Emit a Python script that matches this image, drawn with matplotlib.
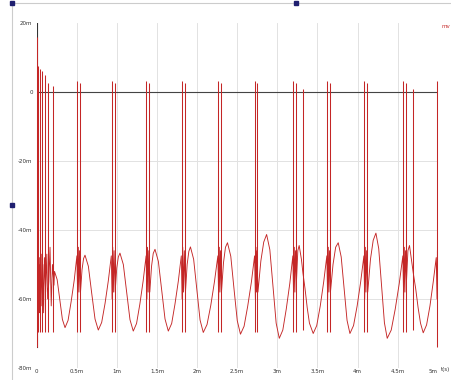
import matplotlib
matplotlib.use("Agg")
import matplotlib.pyplot as plt
from matplotlib.lines import Line2D

# spike times (ms), peaks and troughs (mV)
spike_t = [0.002, 0.019, 0.040, 0.069, 0.102, 0.143, 0.206,
           0.505, 0.539, 0.934, 0.971, 1.368, 1.403, 1.807, 1.848,
           2.263, 2.297, 2.721, 2.752, 3.198, 3.232, 3.319,
           3.622, 3.656, 4.084, 4.121, 4.570, 4.604, 4.695, 4.986]
spike_peak = [16.0, 7.4, 6.7, 6.0, 5.0, 2.7, 1.8,
              3.2, 2.6, 3.2, 2.6, 3.2, 2.6, 3.2, 2.6,
              3.2, 2.6, 3.2, 2.6, 3.2, 2.6, 0.8,
              3.2, 2.6, 3.2, 2.6, 3.2, 2.6, 0.9, 3.2]
spike_low = [-74.0, -69.5, -69.5, -69.5, -69.5, -69.5, -69.5,
             -69.5, -69.5, -69.5, -69.5, -69.5, -69.5, -69.5, -69.5,
             -69.5, -69.5, -69.5, -69.5, -69.5, -69.5, -69.0,
             -69.5, -69.5, -69.5, -69.5, -69.5, -69.5, -69.0, -74.0]

# slow membrane wave between spikes (ms, mV)
slow_t = [0.000, 0.006, 0.012, 0.016, 0.024, 0.030, 0.036, 0.046, 0.055, 0.063,
          0.075, 0.085, 0.095, 0.110, 0.125, 0.135, 0.150, 0.165, 0.180, 0.195,
          0.214, 0.221, 0.254, 0.287, 0.319, 0.352, 0.390, 0.428, 0.467, 0.500,
          0.510, 0.518, 0.526, 0.533, 0.545, 0.564, 0.583, 0.601, 0.643, 0.684,
          0.726, 0.767, 0.809, 0.851, 0.892, 0.929,
          0.939, 0.947, 0.955, 0.964, 0.977, 0.997, 1.017, 1.037, 1.079, 1.120,
          1.162, 1.203, 1.244, 1.285, 1.326, 1.363,
          1.373, 1.381, 1.389, 1.397, 1.409, 1.431, 1.452, 1.474, 1.516, 1.557,
          1.599, 1.640, 1.682, 1.723, 1.765, 1.802,
          1.812, 1.820, 1.830, 1.840, 1.854, 1.875, 1.896, 1.916, 1.956, 1.996,
          2.036, 2.076, 2.123, 2.170, 2.216, 2.258,
          2.268, 2.276, 2.284, 2.291, 2.303, 2.328, 2.353, 2.378, 2.419, 2.459,
          2.500, 2.540, 2.585, 2.630, 2.676, 2.716,
          2.726, 2.733, 2.740, 2.746, 2.758, 2.794, 2.830, 2.866, 2.906, 2.945,
          2.985, 3.024, 3.068, 3.111, 3.155, 3.193,
          3.203, 3.211, 3.219, 3.226, 3.238, 3.255, 3.272, 3.300, 3.319, 3.345,
          3.372, 3.400, 3.447, 3.491, 3.535, 3.578, 3.617,
          3.627, 3.635, 3.643, 3.650, 3.662, 3.694, 3.727, 3.759, 3.796, 3.832,
          3.869, 3.905, 3.950, 3.995, 4.039, 4.079,
          4.089, 4.097, 4.105, 4.113, 4.127, 4.161, 4.195, 4.229, 4.264, 4.300,
          4.335, 4.370, 4.420, 4.470, 4.520, 4.565,
          4.575, 4.583, 4.591, 4.598, 4.610, 4.628, 4.648, 4.672, 4.695, 4.725,
          4.755, 4.785, 4.819, 4.861, 4.903, 4.944, 4.981,
          4.991, 4.996, 5.000]
slow_v = [-74.0, -60.0, -48.0, -62.0, -50.0, -64.0, -48.0, -60.0, -47.0, -62.0,
          -50.0, -64.0, -48.0, -58.0, -47.0, -60.0, -55.0, -45.0, -62.0, -50.0,
          -56.0, -52.0, -54.4, -60.2, -65.9, -68.3, -66.2, -60.8, -54.5, -47.5,
          -60.0, -45.0, -58.0, -46.0, -58.0, -51.5, -48.3, -47.3, -50.5, -58.2,
          -65.8, -69.0, -66.8, -61.3, -54.7, -47.5,
          -60.0, -45.0, -58.0, -46.0, -58.0, -51.0, -47.8, -46.7, -50.0, -58.0,
          -66.0, -69.3, -67.1, -61.5, -54.8, -47.5,
          -60.0, -45.0, -58.0, -46.0, -58.0, -50.5, -46.8, -45.6, -49.1, -57.4,
          -65.8, -69.3, -67.1, -61.5, -54.8, -47.5,
          -60.0, -45.0, -58.0, -46.0, -58.0, -50.0, -46.2, -44.9, -48.5, -57.3,
          -66.1, -69.7, -67.4, -61.8, -54.9, -47.5,
          -60.0, -45.0, -58.0, -46.0, -58.0, -49.5, -45.0, -43.7, -47.6, -57.0,
          -66.3, -70.2, -67.9, -62.1, -55.1, -47.5,
          -60.0, -45.0, -58.0, -46.0, -58.0, -49.0, -43.5, -41.3, -45.7, -56.4,
          -67.0, -71.4, -69.0, -62.9, -55.5, -47.5,
          -60.0, -45.0, -58.0, -46.0, -55.0, -46.0, -44.5, -48.5, -52.5, -57.0,
          -62.5, -67.0, -70.0, -67.7, -62.0, -55.0, -47.5,
          -60.0, -45.0, -58.0, -46.0, -58.0, -50.0, -45.0, -43.7, -47.8, -56.9,
          -66.2, -70.0, -67.7, -62.0, -55.0, -47.5,
          -60.0, -45.0, -58.0, -46.0, -58.0, -48.5, -43.0, -40.9, -45.4, -56.2,
          -66.9, -71.4, -69.0, -62.9, -55.5, -47.5,
          -60.0, -45.0, -58.0, -46.0, -55.0, -46.0, -44.5, -48.5, -52.5, -57.0,
          -62.5, -67.0, -69.8, -67.5, -62.0, -55.0, -48.0,
          -60.0, -46.0, -52.0]

x_ticks = [0, 0.5, 1, 1.5, 2, 2.5, 3, 3.5, 4, 4.5, 5]
x_labels = ["0", "0.5m", "1m", "1.5m", "2m", "2.5m", "3m", "3.5m", "4m", "4.5m", "5m"]
y_ticks = [20, 0, -20, -40, -60, -80]
y_labels = ["20m", "0", "-20m", "-40m", "-60m", "-80m"]

trace = "#c42626"

fig = plt.figure(figsize=(4.51, 3.80), dpi=100)
ax = fig.add_axes([0.0816, 0.0316, 0.889, 0.9079])

for s in ax.spines.values():
    s.set_visible(False)

for x in x_ticks[1:-1]:
    ax.axvline(x, color="#e2e2e2", lw=0.7, zorder=0)
for y in [-20, -40, -60]:
    ax.axhline(y, color="#e2e2e2", lw=0.7, zorder=0)
ax.axhline(0, color="#444444", lw=0.8, zorder=1)
ax.axvline(0, ymin=0.06, ymax=1, color="#333333", lw=0.8, zorder=1)

ax.plot(slow_t, slow_v, color=trace, lw=0.65, zorder=2)
ax.vlines(spike_t, spike_low, spike_peak, color=trace, lw=0.75, zorder=3,
          clip_on=False)

ax.set_xlim(0, 5)
ax.set_ylim(-80, 20)
ax.set_xticks(x_ticks)
ax.set_xticklabels(x_labels)
ax.set_yticks(y_ticks)
ax.set_yticklabels(y_labels)
ax.tick_params(length=0, labelsize=4, labelcolor="#333333")
ax.tick_params(axis="x", pad=1)
ax.tick_params(axis="y", pad=3)
ax.get_xticklabels()[-1].set_horizontalalignment("right")

fig.text(441 / 451, 1 - 370 / 380, "t(s)", fontsize=4, color="#333333",
         ha="left", va="center")
fig.text(446 / 451, 1 - 27 / 380, "mv", fontsize=4, color="#c83030",
         ha="center", va="center")

# window frame and selection handles
fig.add_artist(Line2D([12 / 451, 1], [1 - 3 / 380, 1 - 3 / 380],
                      transform=fig.transFigure, color="#cccccc", lw=0.8))
fig.add_artist(Line2D([12 / 451, 12 / 451], [0, 1 - 3 / 380],
                      transform=fig.transFigure, color="#cccccc", lw=0.8))
for hx, hy in [(12, 3), (296, 3), (12, 205)]:
    fig.add_artist(Line2D([hx / 451], [1 - hy / 380], transform=fig.transFigure,
                          marker="s", markersize=2.2, color="#1f1f70", lw=0))

fig.savefig("out.png", dpi=100)
